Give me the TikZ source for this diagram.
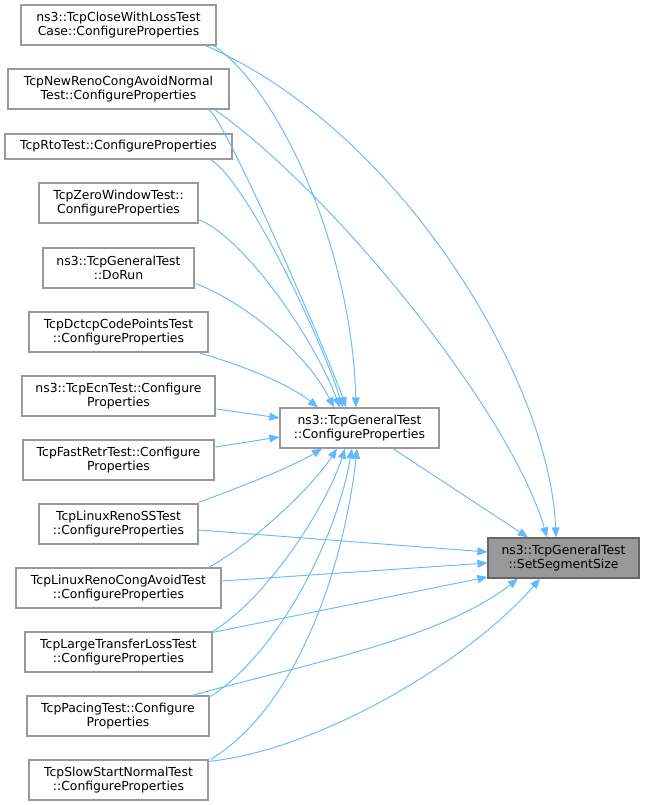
\documentclass[tikz,border=0pt]{standalone}
\usepackage{fontspec}
\setmainfont{DejaVu Sans}
\usetikzlibrary{arrows.meta,calc}
\definecolor{edgec}{HTML}{63B8FF}
\definecolor{bordc}{HTML}{999999}
\definecolor{hlfill}{HTML}{999999}
\definecolor{hlbord}{HTML}{666666}
\begin{document}
\begin{tikzpicture}[x=0.75pt,y=-0.75pt,
  box/.style={draw=bordc,line width=0.9pt,fill=white,inner sep=0pt,align=center,
    font=\fontsize{9.3}{10.5}\selectfont,minimum height=30pt},
  hl/.style={box,draw=hlbord,fill=hlfill},
  edge/.style={draw=edgec,line width=0.7pt,-{Triangle[length=7.5pt,width=6pt]}}]
\useasboundingbox (0,0) rectangle (645,805);
\node[box,minimum width=146.25pt] (n1) at (118.5,25) {ns3::TcpCloseWithLossTest\\Case::ConfigureProperties};
\node[box,minimum width=165.75pt] (n2) at (118.5,89) {TcpNewRenoCongAvoidNormal\\Test::ConfigureProperties};
\node[box,minimum width=170.25pt,minimum height=18.75pt] (n3) at (118.5,146.5) {TcpRtoTest::ConfigureProperties};
\node[box,minimum width=119.25pt] (n4) at (118.5,203) {TcpZeroWindowTest::\\ConfigureProperties};
\node[box,minimum width=113.25pt] (n5) at (118.5,268) {ns3::TcpGeneralTest\\::DoRun};
\node[box,minimum width=134.25pt] (n6) at (118.5,332) {TcpDctcpCodePointsTest\\::ConfigureProperties};
\node[box,minimum width=144.75pt] (n7) at (118.5,396) {ns3::TcpEcnTest::Configure\\Properties};
\node[box,minimum width=143.25pt] (n8) at (118.5,460) {TcpFastRetrTest::Configure\\Properties};
\node[box,minimum width=119.25pt] (n9) at (118.5,524) {TcpLinuxRenoSSTest\\::ConfigureProperties};
\node[box,minimum width=153.75pt] (n10) at (118.5,588) {TcpLinuxRenoCongAvoidTest\\::ConfigureProperties};
\node[box,minimum width=140.25pt] (n11) at (118.5,652) {TcpLargeTransferLossTest\\::ConfigureProperties};
\node[box,minimum width=136.5pt] (n12) at (118,716) {TcpPacingTest::Configure\\Properties};
\node[box,minimum width=134.25pt] (n13) at (118.5,780) {TcpSlowStartNormalTest\\::ConfigureProperties};
\node[box,minimum width=119.25pt] (G) at (359.5,428) {ns3::TcpGeneralTest\\::ConfigureProperties};
\node[hl,minimum width=113.25pt] (S) at (563.5,558) {ns3::TcpGeneralTest\\::SetSegmentSize};
% edges into G, top
\path[edge] ($(n1.south east)+(-3,0)$) .. controls (280,90) and (352,250) .. ($(G.north)+(-3.5,0)$);
\path[edge] ($(n2.south east)+(-21,0)$) .. controls (225,118) and (330,360) .. ($(G.north)+(-13.5,0)$);
\path[edge] ($(n3.south east)+(-22,0)$) .. controls (245,180) and (318,330) .. ($(G.north)+(-16.5,0)$);
\path[edge] ($(n4.south east)+(0,-4)$) .. controls (240,235) and (310,330) .. ($(G.north)+(-19.5,0)$);
\path[edge] ($(n5.south east)+(1,-5)$) .. controls (240,300) and (305,350) .. ($(G.north)+(-25.5,0)$);
\path[edge] ($(n6.south east)+(-10,0)$) .. controls (250,368) and (290,385) .. ($(G.north)+(-41.5,0)$);
% edges into G, left
\path[edge] ($(n7.east)+(1,13)$) -- ($(G.west)+(0,-10)$);
\path[edge] ($(n8.east)+(1,-13)$) -- ($(G.west)+(0,9)$);
% edges into G, bottom
\path[edge] ($(n9.north east)+(0,-1)$) .. controls (240,487) and (290,468) .. ($(G.south)+(-37.5,0)$);
\path[edge] ($(n10.north east)+(-13,0)$) .. controls (250,545) and (310,490) .. ($(G.south)+(-22.5,0)$);
\path[edge] ($(n11.north east)+(0,0)$) .. controls (265,600) and (325,510) .. ($(G.south)+(-14.5,0)$);
\path[edge] ($(n12.north east)+(1,1)$) .. controls (275,655) and (335,545) .. ($(G.south)+(-7.5,0)$);
\path[edge] ($(n13.north east)+(2,0)$) .. controls (300,705) and (345,560) .. ($(G.south)+(-2.5,0)$);
% edges into S
\path[edge] ($(G.south)+(33.5,0)$) -- ($(S.north)+(-35.5,0)$);
\path[edge] ($(n1.south east)+(-11,0)$) .. controls (400,130) and (550,380) .. ($(S.north)+(-7.5,0)$);
\path[edge] ($(n2.south east)+(-15,0)$) .. controls (330,190) and (510,410) .. ($(S.north)+(-16.5,0)$);
\path[edge] ($(n9.east)+(0,6)$) -- ($(S.west)+(0,-6)$);
\path[edge] ($(n10.east)+(1,-7)$) -- ($(S.west)+(0,5)$);
\path[edge] ($(n11.north east)+(0,1)$) -- ($(S.west)+(0,19)$);
\path[edge] ($(n12.north east)+(-17,0)$) .. controls (300,665) and (440,640) .. ($(S.south)+(-45.5,0)$);
\path[edge] ($(n13.north east)+(0,2)$) .. controls (320,750) and (470,660) .. ($(S.south)+(-23.5,0)$);
\end{tikzpicture}
\end{document}
